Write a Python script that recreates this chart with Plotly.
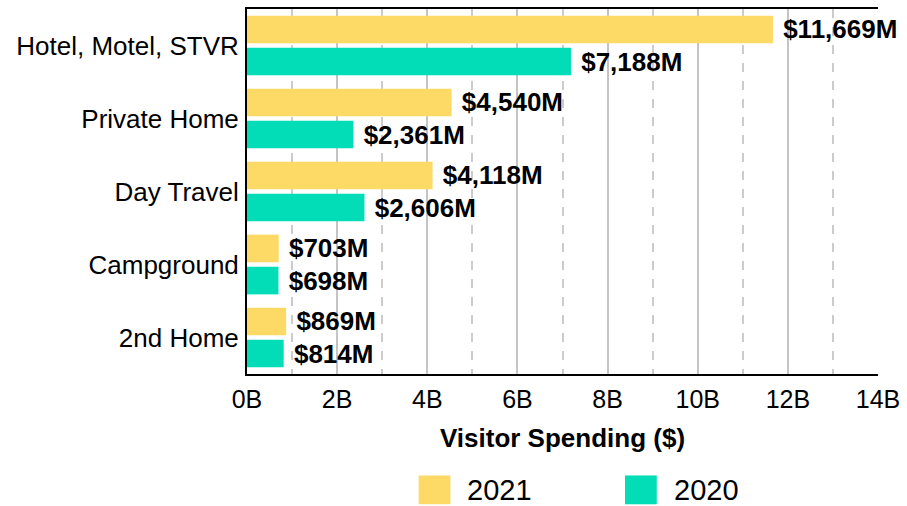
import plotly.graph_objects as go

categories = ["Hotel, Motel, STVR", "Private Home", "Day Travel", "Campground", "2nd Home"]
spend_2021 = [11669, 4540, 4118, 703, 869]   # $M
spend_2020 = [7188, 2361, 2606, 698, 814]    # $M
tick_vals = [0, 2000, 4000, 6000, 8000, 10000, 12000, 14000]
tick_text = ["0B", "2B", "4B", "6B", "8B", "10B", "12B", "14B"]
series_names = ["2021", "2020"]
colors = ["#FDD966", "#02DDB8"]

FONT = "Arial, Liberation Sans, sans-serif"

def fmt(v):
    return " ${:,}M".format(v)

fig = go.Figure()
for name, vals, col in zip(series_names, [spend_2021, spend_2020], colors):
    fig.add_trace(go.Bar(
        y=categories, x=vals, name=name, orientation="h",
        marker=dict(color=col, line=dict(width=0)),
        text=[fmt(v) for v in vals], textposition="outside",
        textfont=dict(family=FONT, size=26, color="black", weight="bold"),
        constraintext="none", cliponaxis=False, showlegend=False,
    ))

L, R, T, B = 247, 24, 7, 132
W, H = 907, 506
pw, ph = W - L - R, H - T - B

def px_x(p):
    return (p - L) / pw

def px_y(p):
    return (H - B - p) / ph

# legend drawn as swatches + labels
shapes = []
annos = []
for name, col, sx in zip(series_names, colors, [420, 628]):
    shapes.append(dict(type="rect", xref="paper", yref="paper",
                       x0=px_x(sx), x1=px_x(sx + 32), y0=px_y(505), y1=px_y(476),
                       fillcolor=col, line=dict(width=0)))
    annos.append(dict(xref="paper", yref="paper", x=px_x(sx + 47), y=px_y(491),
                      text=name, showarrow=False, xanchor="left", yanchor="middle",
                      font=dict(family=FONT, size=29, color="black")))

fig.update_layout(
    width=W, height=H,
    margin=dict(l=L, r=R, t=T, b=B, pad=0),
    paper_bgcolor="white", plot_bgcolor="white",
    barmode="group", bargap=0.12, bargroupgap=0.14,
    font=dict(family=FONT, color="black"),
    shapes=shapes, annotations=annos,
    xaxis=dict(
        range=[0, 14000], tickvals=tick_vals, ticktext=tick_text,
        tickfont=dict(size=25, color="black"),
        showgrid=True, gridcolor="#C4C4C4", gridwidth=2,
        minor=dict(dtick=1000, showgrid=True, gridcolor="#CCCCCC", gridwidth=1.5, griddash="dash"),
        showline=True, linecolor="black", linewidth=2, mirror=True,
        ticks="", ticklabelstandoff=2,
        zeroline=False,
        title=dict(text="<b>Visitor Spending ($)</b>", font=dict(size=26, color="black"), standoff=17),
    ),
    yaxis=dict(
        autorange="reversed", tickfont=dict(size=26, color="black"),
        showline=True, linecolor="black", linewidth=2,
        ticks="", ticklabelstandoff=1, showgrid=False,
    ),
)

fig.write_html("out.html", config={"displayModeBar": False},
               post_script="document.body.style.margin='0';document.body.style.overflow='hidden';")
